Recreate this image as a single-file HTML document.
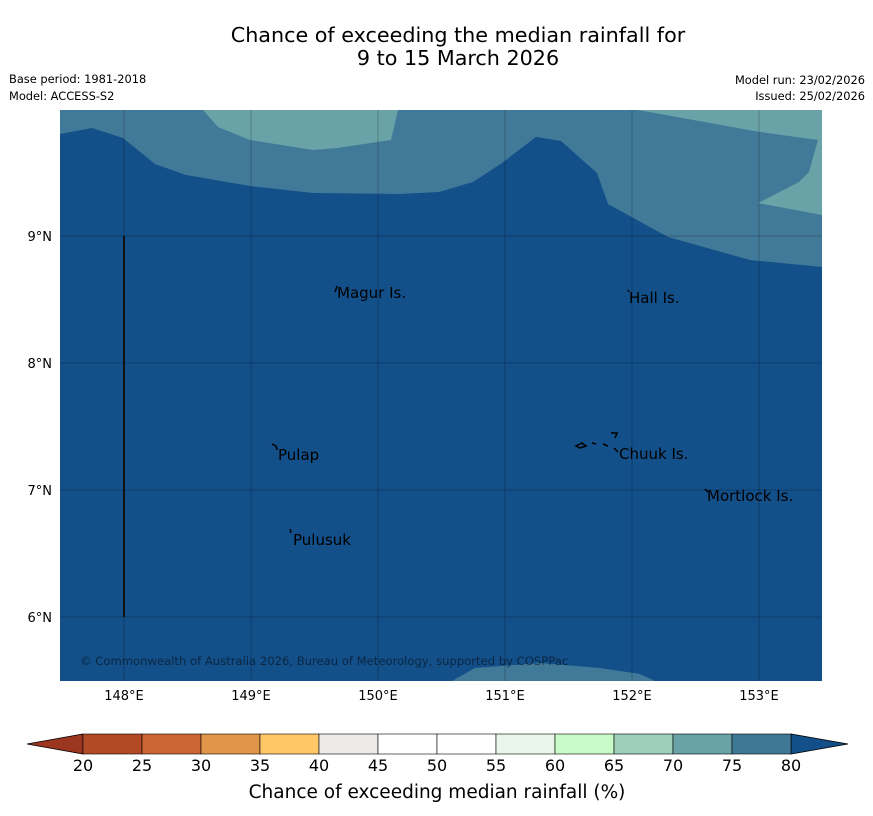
<!DOCTYPE html>
<html><head><meta charset="utf-8"><style>
body{margin:0;background:#fff;font-family:"DejaVu Sans","Liberation Sans",sans-serif;}
svg{display:block}
</style></head><body>
<svg width="873" height="816" xmlns="http://www.w3.org/2000/svg">
<text x="458" y="42" font-size="20.7" text-anchor="middle">Chance of exceeding the median rainfall for</text>
<text x="458" y="65" font-size="20.7" text-anchor="middle">9 to 15 March 2026</text>
<text x="9" y="83" font-size="11.4">Base period: 1981-2018</text>
<text x="9" y="100" font-size="11.4">Model: ACCESS-S2</text>
<text x="865" y="84" font-size="11.4" text-anchor="end">Model run: 23/02/2026</text>
<text x="865" y="100" font-size="11.4" text-anchor="end">Issued: 25/02/2026</text>
<g>
<rect x="60" y="110" width="762" height="571" fill="#134f88"/>
<polygon fill="#417a99" points="60,110 822,110 822,267 750,260 668,237 608,204 597,173 561,141 536,137 502,163 473,182 439,192 400,194 313,193 250,186 186,175 155,164 123,138 92,128 60,134"/>
<polygon fill="#6aa3a7" points="203,110 218,127 250,140 313,150 337,148 391,140 398,110"/>
<polygon fill="#6aa3a7" points="638,110 760,132 818,140 809,172 799,182 758,203 822,215 822,110"/>
<polygon fill="#417a99" points="452,681 475,668 540,663 600,668 640,674 655,681"/>
<g id="grid" stroke="#000" stroke-opacity="0.22" stroke-width="1"></g>
<line x1="124" y1="236" x2="124" y2="617" stroke="#111" stroke-width="2"/>
<g font-size="15" fill="#000" font-family="'DejaVu Sans',sans-serif">
<text x="337" y="298">Magur Is.</text>
<text x="278" y="460">Pulap</text>
<text x="293" y="545">Pulusuk</text>
<text x="629" y="303">Hall Is.</text>
<text x="619" y="459">Chuuk Is.</text>
<text x="707" y="501">Mortlock Is.</text>
</g>
<g stroke="#000" stroke-width="1.5" fill="none">
<path d="M335,292 l2,-6"/><path d="M272,444 l4,2 l1,4"/><path d="M290,529 l1,4"/><path d="M628,290 l1,2"/>
<path d="M576,446 l6,-3 l4,3 l-6,2z M592,443 l4,1 M603,444 l5,2 M611,433 l6,0 l-2,5 M614,448 l4,4"/><path d="M705,489 l3,3"/>
</g>
<text x="80" y="665" font-size="11.6" fill="#000" fill-opacity="0.5">© Commonwealth of Australia 2026, Bureau of Meteorology, supported by COSPPac</text>
</g>
<g id="axes" font-size="13"></g>
<g id="cbar"></g>
<text x="437" y="798" font-size="18.5" text-anchor="middle">Chance of exceeding median rainfall (%)</text>
</svg>
<script>
const lonTicks=[148,149,150,151,152,153];
const latTicks=[9,8,7,6];
const cbBounds=[20,25,30,35,40,45,50,55,60,65,70,75,80];
const cbColors=["#b24a25","#cc6534","#e09548","#fec866","#ece9e6","#ffffff","#ffffff","#eaf5e9","#c9fbc9","#9cceb9","#6aa3a7","#3f7896"];
const NS="http://www.w3.org/2000/svg";
const X=lon=>124+(lon-148)*127, Y=lat=>236+(9-lat)*127;
function mk(t,a,p){const e=document.createElementNS(NS,t);for(const k in a)e.setAttribute(k,a[k]);p.appendChild(e);return e;}
const grid=document.getElementById('grid'),axes=document.getElementById('axes'),cb=document.getElementById('cbar');
lonTicks.forEach(l=>{const ln=mk('line',{x1:X(l),x2:X(l),y1:110,y2:681},grid);


const t=mk('text',{x:X(l),y:700,'text-anchor':'middle'},axes);t.textContent=l+'°E';

});
latTicks.forEach(l=>{const ln=mk('line',{x1:60,x2:822,y1:Y(l),y2:Y(l)},grid);


const t=mk('text',{x:52,y:Y(l)+5,'text-anchor':'end'},axes);t.textContent=l+'°N';

});
const C=v=>83+(v-20)*(708/60), y0=734,y1=754;
const lt=mk('polygon',{points:`27,744 ${C(20)},${y0} ${C(20)},${y1}`,fill:'#9c3620',stroke:'#000','stroke-width':0.8},cb);


const rt=mk('polygon',{points:`848,744 ${C(80)},${y0} ${C(80)},${y1}`,fill:'#134f88',stroke:'#000','stroke-width':0.8},cb);


cbColors.forEach((c,i)=>{const r=mk('rect',{x:C(cbBounds[i]),y:y0,width:C(cbBounds[i+1])-C(cbBounds[i]),height:20,fill:c,stroke:'#000','stroke-width':0.6},cb);

});
cbBounds.forEach(v=>{const t=mk('text',{x:C(v),y:771,'text-anchor':'middle','font-size':16},cb);t.textContent=v;

});
</script>
</body></html>
